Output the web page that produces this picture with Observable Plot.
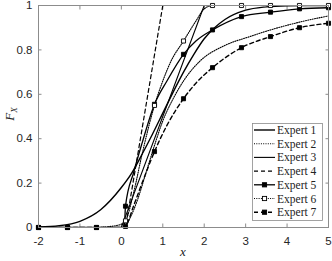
<!DOCTYPE html>
<html><head><meta charset="utf-8">
<script src="https://cdn.jsdelivr.net/npm/d3@7"></script>
<script src="https://cdn.jsdelivr.net/npm/@observablehq/plot@0.6"></script>
<style>body{margin:0;background:#fff} #chart{width:332px;height:261px}</style>
</head><body><div id="chart"></div>
<script>
// tick values
const xTicks = [-2, -1, 0, 1, 2, 3, 4, 5];
const yTicks = [0, 0.2, 0.4, 0.6, 0.8, 1];

// Expert 1 (solid, smooth)
const e1x = [-2, -1.5, -1, -0.5, 0, 0.25, 0.5, 0.75, 1, 1.25, 1.5, 1.75, 2, 2.25, 2.5, 3, 3.5, 4, 4.5, 5];
const e1y = [0.002, 0.008, 0.028, 0.08, 0.18, 0.245, 0.33, 0.42, 0.515, 0.61, 0.70, 0.78, 0.85, 0.90, 0.937, 0.979, 0.994, 0.999, 1, 1];
// Expert 2 (dotted)
const e2x = [-2, 0.05, 0.2, 0.4, 0.6, 0.8, 1.0, 1.25, 1.5, 1.9, 2.5, 3.1, 3.6, 4.3, 5];
const e2y = [0, 0, 0.04, 0.13, 0.25, 0.37, 0.48, 0.58, 0.66, 0.75, 0.82, 0.86, 0.89, 0.925, 0.953];
// Expert 3 (solid, straight)
const e3x = [-2, 0, 2, 5];
const e3y = [0, 0, 1, 1];
// Expert 4 (dashed, straight)
const e4x = [-2, 0.1, 1.0, 5];
const e4y = [0, 0, 1, 1];
// Expert 5 (solid + filled squares)
const e5x = [-2, -1.3, -0.6, 0.07, 0.1, 0.3, 0.5, 0.8, 1.1, 1.5, 1.8, 2.2, 2.9, 3.6, 4.3, 5];
const e5y = [0, 0, 0, 0, 0.096, 0.25, 0.38, 0.555, 0.66, 0.78, 0.84, 0.89, 0.95, 0.97, 0.985, 0.99];
// Expert 6 (dotted + open squares)
const e6x = [-2, -1.3, -0.6, -0.3, 0, 0.1, 0.3, 0.5, 0.8, 1.0, 1.2, 1.5, 1.8, 2.0, 2.2, 5];
const e6y = [0, 0, 0, 0.004, 0.015, 0.03, 0.16, 0.33, 0.55, 0.66, 0.75, 0.84, 0.93, 0.985, 1, 1];
// Expert 7 (dashed + filled squares)
const e7x = [-2, 0.05, 0.1, 0.3, 0.5, 0.8, 1.1, 1.5, 1.8, 2.2, 2.9, 3.6, 4.3, 5];
const e7y = [0, 0, 0.005, 0.1, 0.2, 0.342, 0.46, 0.58, 0.65, 0.72, 0.81, 0.86, 0.90, 0.92];

// marker positions
const mx = [-2, -1.3, -0.6, 0.1, 0.8, 1.5, 2.2, 2.9, 3.6, 4.3, 5];
const m5 = [0, 0, 0, 0.096, 0.555, 0.78, 0.89, 0.95, 0.97, 0.985, 0.99];
const m6 = [0, 0, 0, 0.03, 0.55, 0.84, 1, 1, 1, 1, 1];
const m7 = [0, 0, 0, 0.005, 0.342, 0.58, 0.72, 0.81, 0.86, 0.90, 0.92];

const names = ["Expert 1", "Expert 2", "Expert 3", "Expert 4", "Expert 5", "Expert 6", "Expert 7"];

const pts = (xs, ys) => xs.map((x, i) => ({x, F: ys[i]}));

const styles = [
  {dash: null, w: 1.4, curve: "monotone-x"},
  {dash: "1,1.3", w: 1.1, curve: "monotone-x"},
  {dash: null, w: 1.1, curve: "linear"},
  {dash: "4,3", w: 1.2, curve: "linear"},
  {dash: null, w: 1.3, curve: "monotone-x", mark: "fill"},
  {dash: "1,1.3", w: 1.1, curve: "monotone-x", mark: "open"},
  {dash: "4,3", w: 1.4, curve: "monotone-x", mark: "fill"}
];
const series = [[e1x,e1y],[e2x,e2y],[e3x,e3y],[e4x,e4y],[e5x,e5y],[e6x,e6y],[e7x,e7y]];

const lineMarks = series.map(([xs, ys], i) => Plot.line(pts(xs, ys), {
  x: "x", y: "F", stroke: "#000", strokeWidth: styles[i].w,
  strokeDasharray: styles[i].dash, curve: styles[i].curve, clip: true
}));

const dotMarks = [[m5, "fill"], [m6, "open"], [m7, "fill"]].map(([ys, t]) =>
  Plot.dot(pts(mx, ys), {x: "x", y: "F", symbol: "square", r: 2.3,
    fill: t === "fill" ? "#000" : "#fff", stroke: "#000", strokeWidth: 0.9}));

const tickStyle = {stroke: "#8c8c8c", tickSize: -3.5, tickFormat: () => "", label: null};
const textStyle = {tickSize: 0, label: null, fill: "#262626", fontSize: 11.5};

const chart = Plot.plot({
  width: 332, height: 261,
  marginLeft: 38, marginRight: 4, marginTop: 5, marginBottom: 34,
  x: {domain: [-2, 5]},
  y: {domain: [0, 1]},
  style: {fontFamily: "'Liberation Sans', Arial, sans-serif", fontSize: "11.5px", background: "#fff"},
  marks: [
    Plot.axisX(xTicks, {anchor: "bottom", ...tickStyle}),
    Plot.axisX(xTicks, {anchor: "top", ...tickStyle}),
    Plot.axisY(yTicks, {anchor: "left", ...tickStyle}),
    Plot.axisY(yTicks, {anchor: "right", ...tickStyle}),
    Plot.axisX(xTicks, {anchor: "bottom", ...textStyle, tickPadding: 9, tickFormat: d => d < 0 ? "-" + Math.abs(d) : String(d)}),
    Plot.axisY(yTicks, {anchor: "left", ...textStyle, tickPadding: 6, tickFormat: d => String(d)}),
    ...lineMarks,
    ...dotMarks,
    Plot.frame({stroke: "#8c8c8c"})
  ]
});

const svg = d3.select(chart);
const serif = "'Liberation Serif', 'DejaVu Serif', serif";

// axis titles
svg.append("text").attr("x", 183).attr("y", 256).attr("text-anchor", "middle")
  .attr("font-family", serif).attr("font-style", "italic")
  .attr("font-size", 13).attr("fill", "#222").text("x");
const yl = svg.append("text").attr("transform", "translate(14,114) rotate(-90)").attr("text-anchor", "middle")
  .attr("font-family", serif).attr("font-size", 13).attr("fill", "#222");
yl.append("tspan").attr("font-style", "italic").text("F");
yl.append("tspan").attr("font-style", "italic").attr("font-size", 9).attr("dy", 2.5).text("X");

// legend
const lg = svg.append("g");
lg.append("rect").attr("x", 252.5).attr("y", 123.5).attr("width", 70).attr("height", 97)
  .attr("fill", "#fff").attr("stroke", "#8c8c8c").attr("stroke-width", 0.8);
names.forEach((n, i) => {
  const cy = 130 + i * 13.7;
  const s = styles[i];
  lg.append("line").attr("x1", 254).attr("x2", 275).attr("y1", cy).attr("y2", cy)
    .attr("stroke", "#000").attr("stroke-width", s.w).attr("stroke-dasharray", s.dash);
  if (s.mark) {
    lg.append("rect").attr("x", 264.5 - 2.1).attr("y", cy - 2.1).attr("width", 4.2).attr("height", 4.2)
      .attr("fill", s.mark === "fill" ? "#000" : "#fff").attr("stroke", "#000").attr("stroke-width", 0.9);
  }
  lg.append("text").attr("x", 277).attr("y", cy + 4).attr("text-anchor", "start")
    .attr("font-family", serif).attr("font-size", 11.5)
    .attr("fill", "#222").text(n);
});

document.getElementById("chart").appendChild(chart);
</script></body></html>
